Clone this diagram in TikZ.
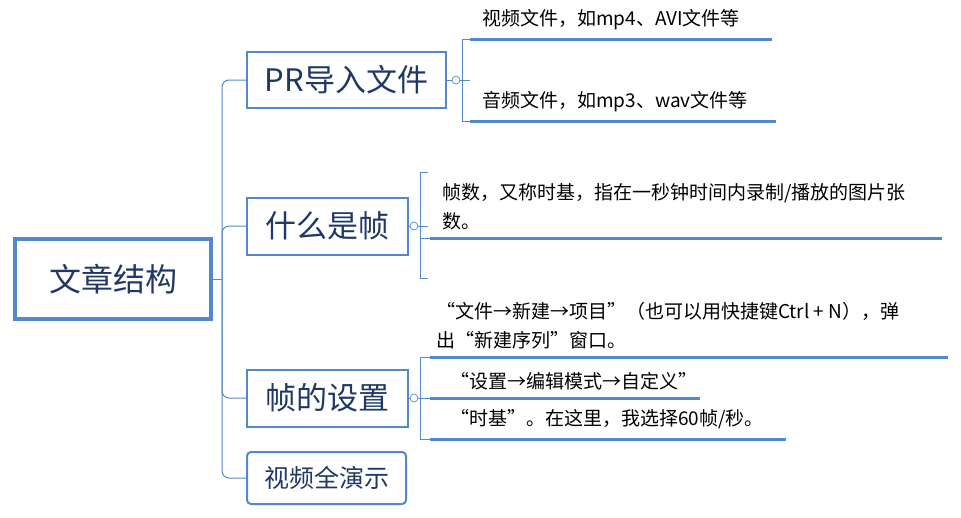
\documentclass[tikz,border=0pt]{standalone}
\usepackage{fontspec}
\setmainfont{Noto Sans CJK SC}
\usetikzlibrary{positioning}
\definecolor{mapblue}{RGB}{84,136,204}
\definecolor{maptext}{RGB}{31,56,100}
\tikzset{
  topic/.style={draw=mapblue,line width=2pt,text=maptext,font=\fontsize{31}{34}\selectfont,inner sep=0pt,anchor=west},
  leaf/.style={anchor=west,font=\fontsize{19}{29}\selectfont,align=left,inner sep=0pt},
  uline/.style={mapblue,line width=3pt},
  branch/.style={mapblue,line width=1pt},
  fold/.style={circle,draw=mapblue,fill=white,line width=0.7pt,minimum size=8pt,inner sep=0pt}
}
\begin{document}
\begin{tikzpicture}[x=1pt,y=-1pt]
  \useasboundingbox (0,0) rectangle (961,517);

  % root and topics
  \node[topic,line width=3.5pt,minimum width=196pt,minimum height=80pt,anchor=center,font=\fontsize{32}{34}\selectfont] (root) at (113,279) {文章结构};
  \node[topic,minimum width=199pt,minimum height=56pt] (pr) at (246,80) {PR导入文件};
  \node[topic,minimum width=161pt,minimum height=57pt] (frame) at (246,226) {什么是帧};
  \node[topic,minimum width=161pt,minimum height=57pt] (setup) at (246,398) {帧的设置};
  \node[topic,rounded corners=4pt,minimum width=159pt,minimum height=52pt,font=\fontsize{25}{28}\selectfont] (demo) at (246,478) {视频全演示};

  % trunk
  \coordinate (trunk) at (222,279);
  \draw[branch] (root.east) -- (trunk);
  \foreach \t in {pr,frame,setup,demo}
    \draw[branch,rounded corners=7pt] (trunk) |- (\t.west);

  % leaves of pr
  \node[leaf] (pr1) at (482,20) {视频文件，如mp4、AVI文件等};
  \node[leaf] (pr2) at (482,102) {音频文件，如mp3、wav文件等};
  \draw[uline] (470,39) -- (772,39);
  \draw[uline] (470,121) -- (776,121);
  \draw[branch] (470,39) -- (462,39) -- (462,121) -- (470,121);
  \draw[branch] (pr.east) -- (470,80);
  \node[fold] (fpr) at (456,80) {};

  % leaves of frame
  \node[leaf] (fr1) at (442,207) {帧数，又称时基，指在一秒钟时间内录制/播放的图片张\\数。};
  \draw[uline] (430,238) -- (942,238);
  \draw[branch] (428,172) -- (420,172) -- (420,278) -- (428,278);
  \draw[branch] (420,238) -- (430,238);
  \draw[branch] (frame.east) -- (428,226);
  \node[fold] (ffr) at (414,226) {};

  % leaves of setup
  \node[leaf] (st1) at (436,326) {“文件→新建→项目”（也可以用快捷键Ctrl + N），弹\\出“新建序列”窗口。};
  \node[leaf] (st2) at (450,381) {“设置→编辑模式→自定义”};
  \node[leaf] (st3) at (450,419) {“时基”。在这里，我选择60帧/秒。};
  \draw[uline] (430,357) -- (948,357);
  \draw[uline] (430,398) -- (700,398);
  \draw[uline] (430,439) -- (786,439);
  \draw[branch] (430,357) -- (420,357) -- (420,439) -- (430,439);
  \draw[branch] (setup.east) -- (430,398);
  \node[fold] (fst) at (414,398) {};
\end{tikzpicture}
\end{document}
